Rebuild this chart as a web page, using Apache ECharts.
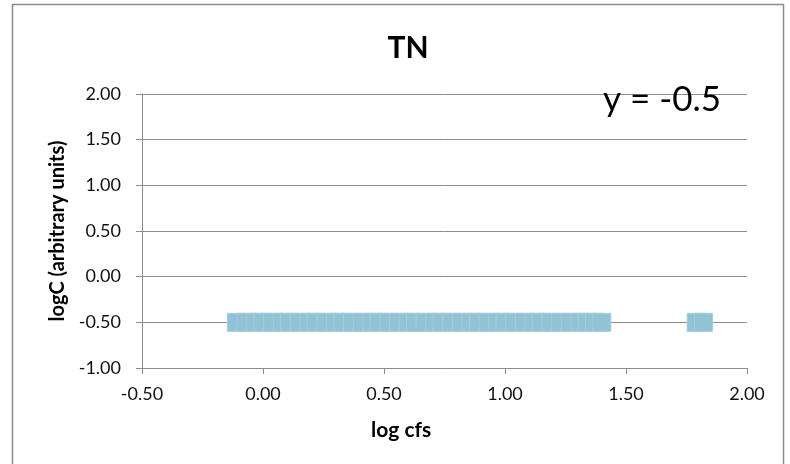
<!DOCTYPE html>
<html>
<head>
<meta charset="utf-8">
<script src="https://cdn.jsdelivr.net/npm/echarts@6/dist/echarts.min.js"></script>
<style>
  html, body { margin: 0; padding: 0; background: #fff; }
  #chart { width: 790px; height: 464px; }
</style>
</head>
<body>
<div id="chart"></div>
<script>
// log flow (cfs) of each TN sample
const logCfs = [
  -0.11, -0.07, -0.03, 0.00, 0.04, 0.08, 0.11, 0.15, 0.19, 0.22,
  0.26, 0.30, 0.33, 0.37, 0.41, 0.45, 0.48, 0.52, 0.56, 0.60,
  0.63, 0.67, 0.71, 0.74, 0.78, 0.82, 0.86, 0.89, 0.93, 0.97,
  1.00, 1.04, 1.08, 1.12, 1.15, 1.19, 1.23, 1.27, 1.31, 1.34,
  1.37, 1.40, 1.79, 1.82
];
// log concentration, arbitrary units (constant for this constituent)
const logC = [
  -0.5, -0.5, -0.5, -0.5, -0.5, -0.5, -0.5, -0.5, -0.5, -0.5,
  -0.5, -0.5, -0.5, -0.5, -0.5, -0.5, -0.5, -0.5, -0.5, -0.5,
  -0.5, -0.5, -0.5, -0.5, -0.5, -0.5, -0.5, -0.5, -0.5, -0.5,
  -0.5, -0.5, -0.5, -0.5, -0.5, -0.5, -0.5, -0.5, -0.5, -0.5,
  -0.5, -0.5, -0.5, -0.5
];
const chartTitle = 'TN';
const xAxisName = 'log cfs';
const yAxisName = 'logC (arbitrary units)';
const fitLabel = 'y = -0.5';

const points = logCfs.map((x, i) => [x, logC[i]]);
const font = 'Lato, "Open Sans", sans-serif';

const chart = echarts.init(document.getElementById('chart'));
chart.setOption({
  animation: false,
  backgroundColor: '#fff',
  title: {
    text: chartTitle,
    left: 403, top: 28, textAlign: 'center',
    textStyle: { fontFamily: font, fontSize: 30, fontWeight: 'bold', color: '#000' }
  },
  graphic: [
    {
      type: 'rect', z: 0, silent: true,
      shape: { x: 12.5, y: 4.5, width: 771, height: 470 },
      style: { fill: 'none', stroke: '#8c8c8c', lineWidth: 1.5 }
    },
    {
      type: 'text', z: 10,
      left: 603, top: 82,
      style: { text: fitLabel, fontFamily: font, fontSize: 35, fill: '#000' }
    },
    {
      type: 'text', z: 10,
      left: 371, top: 420,
      style: { text: xAxisName, fontFamily: font, fontSize: 21, fontWeight: 'bold',
        fill: '#000', align: 'center' }
    }
  ],
  grid: { left: 142, right: 43, top: 94, bottom: 96 },
  xAxis: {
    type: 'value', min: -0.5, max: 2, interval: 0.5,
    axisLine: { onZero: false, lineStyle: { color: '#8c8c8c', width: 1 } },
    axisTick: { show: true, length: 6, lineStyle: { color: '#8c8c8c' } },
    axisLabel: { fontFamily: font, fontSize: 18, color: '#111', margin: 17,
      formatter: v => v.toFixed(2) },
    splitLine: { show: false }
  },
  yAxis: {
    type: 'value', min: -1, max: 2, interval: 0.5,
    name: yAxisName, nameLocation: 'middle', nameGap: 73,
    nameTextStyle: { fontFamily: font, fontSize: 20, fontWeight: 'bold', color: '#000' },
    axisLine: { show: true, onZero: false, lineStyle: { color: '#8c8c8c', width: 1 } },
    axisTick: { show: true, length: 6, lineStyle: { color: '#8c8c8c' } },
    axisLabel: { fontFamily: font, fontSize: 18, color: '#111', margin: 21,
      formatter: v => v.toFixed(2) },
    splitLine: { show: true, lineStyle: { color: '#8c8c8c', width: 1 } }
  },
  series: [{
    type: 'scatter',
    data: points,
    symbol: 'rect',
    symbolSize: 18,
    itemStyle: { color: '#92c2d5', borderColor: '#a2cddd', borderWidth: 1, opacity: 1 }
  }]
});
</script>
</body>
</html>
